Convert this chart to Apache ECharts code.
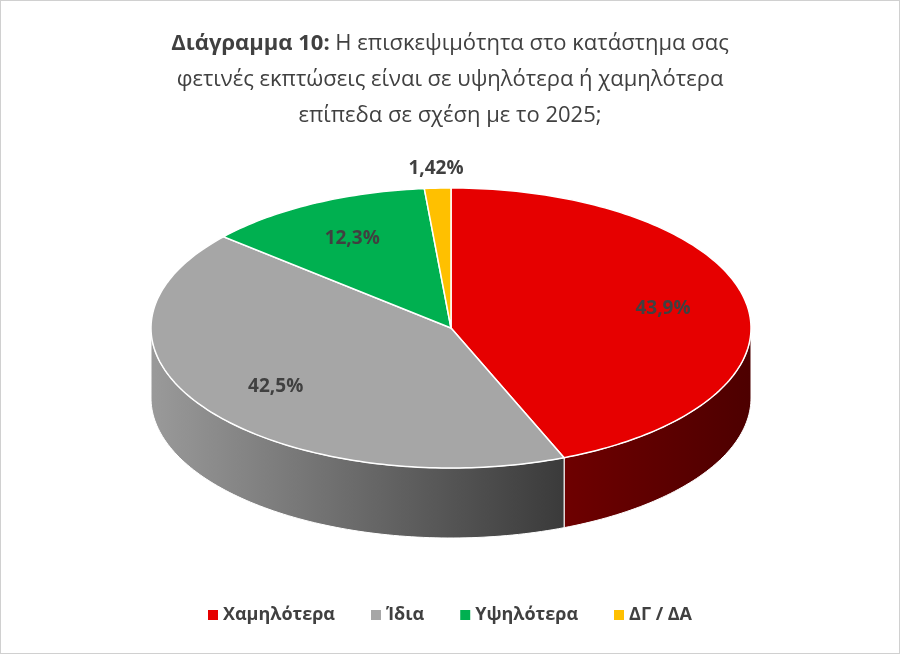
<!DOCTYPE html>
<html><head><meta charset="utf-8">
<script src="https://cdn.jsdelivr.net/npm/echarts@6/dist/echarts.min.js"></script>
<style>html,body{margin:0;padding:0;background:#fff}#c{width:898px;height:652px;border:1px solid #d0d0d0}</style>
</head><body><div id="c"></div>
<script>
const categories = ['Χαμηλότερα', 'Ίδια', 'Υψηλότερα', 'ΔΓ / ΔΑ'];
const values = [43.9, 42.5, 12.3, 1.42];
const labels = ['43,9%', '42,5%', '12,3%', '1,42%'];
const topColors = ['#E60000', '#A6A6A6', '#00B050', '#FFC000'];
const sideColors = [['#6e0000', '#4d0000'], ['#9a9a9a', '#3a3a3a'], ['#006b30', '#004a20'], ['#b08400', '#805f00']];

const cx = 450, cy = 327, rx = 300, ry = 140, depth = 70;
const total = values.reduce((a, b) => a + b, 0);
function pt(t, dy) { return [cx + rx * Math.sin(t), cy - ry * Math.cos(t) + (dy || 0)]; }
function arc(a, b, dy) { const n = Math.max(2, Math.ceil((b - a) / 0.02)); const p = []; for (let i = 0; i <= n; i++) p.push(pt(a + (b - a) * i / n, dy)); return p; }

const chart = echarts.init(document.getElementById('c'));
chart.setOption({
  title: {
    text: '{b|Διάγραμμα 10:} Η επισκεψιμότητα στο κατάστημα σας\nφετινές εκπτώσεις είναι σε υψηλότερα ή χαμηλότερα\nεπίπεδα σε σχέση με το 2025;',
    left: 'center', top: 20,
    textStyle: { fontFamily: 'Open Sans', fontSize: 22, fontWeight: 'normal', color: '#404040', lineHeight: 36,
      rich: { b: { fontFamily: 'Open Sans', fontSize: 22, fontWeight: 'bold', color: '#404040' } } }
  },
  legend: {
    bottom: 24, left: 'center', itemWidth: 10, itemHeight: 10, itemGap: 36, icon: 'rect',
    textStyle: { fontFamily: 'Open Sans', fontSize: 18, fontWeight: 'bold', color: '#404040' },
    data: categories, selectedMode: false
  },
  series: [{
    type: 'pie', radius: [0, 0], center: [-100, -100], silent: true, label: { show: false }, labelLine: { show: false },
    data: categories.map((n, i) => ({ name: n, value: values[i], itemStyle: { color: topColors[i] } }))
  }, {
    type: 'custom', coordinateSystem: 'none', silent: true,
    data: values.map((v, i) => [v, i]),
    renderItem: function (params, api) {
      const i = params.dataIndex;
      let s = 0; for (let k = 0; k < i; k++) s += values[k];
      const a = s / total * 2 * Math.PI, b = (s + api.value(0)) / total * 2 * Math.PI;
      const children = [];
      const fa = Math.max(a, Math.PI / 2), fb = Math.min(b, 3 * Math.PI / 2);
      if (fb > fa) {
        const top = arc(fa, fb, 0), bot = arc(fa, fb, depth).reverse();
        const xs = top.map(p => p[0]);
        children.push({ type: 'polygon', z2: 1, shape: { points: top.concat(bot) },
          style: { fill: new echarts.graphic.LinearGradient(0, 0, 1, 0, [{ offset: 0, color: sideColors[i][0] }, { offset: 1, color: sideColors[i][1] }]), stroke: '#ffffff', lineWidth: 1 } });
      }
      children.push({ type: 'polygon', z2: 10, shape: { points: [[cx, cy]].concat(arc(a, b, 0)) },
        style: { fill: topColors[i], stroke: '#ffffff', lineWidth: 1.5 } });
      const m = (a + b) / 2;
      const rf = i === 3 ? 1.12 : 0.72;
      const lp = [cx + rx * rf * Math.sin(m), cy - ry * rf * Math.cos(m)];
      if (i === 3) lp[1] = 168;
      children.push({ type: 'text', z2: 20, x: lp[0], y: lp[1],
        style: { text: labels[i], fontFamily: 'Open Sans', fontSize: 19, fontWeight: 'bold', fill: '#404040', align: 'center', verticalAlign: 'middle' } });
      return { type: 'group', children: children };
    }
  }]
});
</script></body></html>
